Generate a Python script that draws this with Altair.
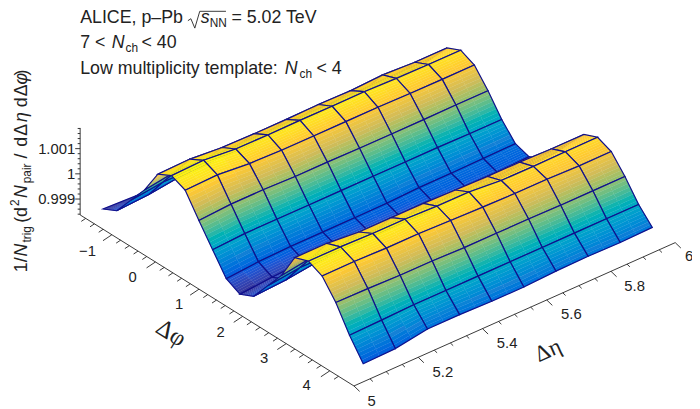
import math
import numpy as np
import pandas as pd
import altair as alt

# correlation values: (z - 1) * 1000, rows = delta-phi node, columns = delta-eta node
z_milli = [
    [-1.51,-1.57,-1.43,-1.39,-1.39,-1.39,-1.36,-1.36,-1.36,-1.32],
    [-1.24,-1.16,-1.00,-0.96,-0.96,-0.96,-0.96,-0.92,-0.92,-0.92],
    [-0.49,-0.34,-0.34,-0.30,-0.30,-0.30,-0.30,-0.30,-0.30,-0.30],
    [0.25,0.45,0.41,0.41,0.41,0.41,0.41,0.41,0.41,0.41],
    [1.23,1.26,1.15,1.13,1.13,1.15,1.13,1.19,1.12,1.12],
    [1.51,1.55,1.43,1.42,1.43,1.42,1.43,1.39,1.37,1.37],
    [1.27,1.31,1.19,1.15,1.15,1.15,1.15,1.13,1.12,1.12],
    [0.41,0.49,0.49,0.45,0.45,0.43,0.43,0.43,0.44,0.44],
    [-0.41,-0.34,-0.34,-0.34,-0.34,-0.34,-0.34,-0.34,-0.36,-0.36],
    [-1.22,-1.12,-1.08,-1.08,-1.08,-1.07,-1.02,-1.02,-1.00,-0.98],
    [-1.50,-1.39,-1.32,-1.28,-1.28,-1.28,-1.24,-1.20,-1.20,-1.16],
    [-1.24,-1.16,-1.00,-0.96,-0.96,-0.96,-0.96,-0.92,-0.92,-0.92],
    [-0.49,-0.34,-0.34,-0.30,-0.30,-0.30,-0.30,-0.30,-0.30,-0.30],
    [0.25,0.45,0.45,0.41,0.41,0.41,0.41,0.41,0.41,0.41],
    [1.31,1.31,1.19,1.19,1.19,1.15,1.12,1.12,1.08,1.08],
    [1.51,1.51,1.47,1.47,1.42,1.41,1.30,1.29,1.30,1.31],
    [1.26,1.27,1.23,1.23,1.19,1.15,1.12,1.12,1.08,1.08],
    [0.55,0.53,0.49,0.49,0.45,0.45,0.45,0.43,0.43,0.43],
    [-0.41,-0.38,-0.34,-0.34,-0.34,-0.34,-0.34,-0.34,-0.34,-0.34],
    [-1.20,-1.17,-0.96,-0.96,-1.00,-1.00,-0.94,-0.92,-0.94,-0.91],
]
phi_nodes = [-math.pi / 2 + k * math.pi / 10 for k in range(20)]
eta_nodes = [5.05 + 0.1 * e for e in range(10)]
palette = ["#352a87", "#0f5cdd", "#1481d6", "#06a4ca", "#2eb7a4",
           "#87bf77", "#d1bb59", "#fec832", "#f9fb0e"]

NAVY = "#10108c"
INK = "#222222"
SANS = "Liberation Sans"

# oblique view of the 3D axes box, in page pixels
ORIGIN = (81.0, 215.0)
PHI0, ETA0, Z0 = -1.728, 5.0, 0.99837
PHI_V = (44.09, 27.54)
ETA_V = (325.0, -145.0)
Z_V = -25500.0
OFF = 8


def view(phi, eta, z):
    x = ORIGIN[0] + (phi - PHI0) * PHI_V[0] + (eta - ETA0) * ETA_V[0]
    y = ORIGIN[1] + (phi - PHI0) * PHI_V[1] + (eta - ETA0) * ETA_V[1] + (z - Z0) * Z_V
    return x - OFF, y - OFF


Z = 1 + np.array(z_milli) / 1000.0
N_P, N_E = 8, 2
features = []


def feature(points, z, edge):
    ring = [[round(a, 2), round(b, 2)] for a, b in points]
    ring.append(ring[0])
    return {"type": "Feature", "geometry": {"type": "Polygon", "coordinates": [ring]},
            "properties": {"z": round((z - 1) * 1000, 3), "edge": edge}}


for k in range(len(phi_nodes) - 1):
    for e in range(len(eta_nodes) - 2, -1, -1):
        def at(u, v):
            zz = ((1 - u) * (1 - v) * Z[k, e] + u * (1 - v) * Z[k + 1, e]
                  + (1 - u) * v * Z[k, e + 1] + u * v * Z[k + 1, e + 1])
            return (phi_nodes[k] + u * (phi_nodes[k + 1] - phi_nodes[k]),
                    eta_nodes[e] + v * (eta_nodes[e + 1] - eta_nodes[e]), zz)
        for i in range(N_P):
            for j in range(N_E):
                u0, u1, v0, v1 = i / N_P, (i + 1) / N_P, j / N_E, (j + 1) / N_E
                cs = [at(u0, v0), at(u1, v0), at(u1, v1), at(u0, v1)]
                features.append(feature([view(*c) for c in cs], sum(c[2] for c in cs) / 4, False))
        cs = [at(0, 0), at(1, 0), at(1, 1), at(0, 1)]
        features.append(feature([view(*c) for c in cs], sum(c[2] for c in cs) / 4, True))

domain = [float(d) for d in np.linspace(-1.57, 1.55, len(palette))]
bird = alt.Scale(domain=domain, range=palette)
is_edge = "datum.properties.edge"
surface = alt.Chart(alt.Data(values=features)).mark_geoshape(opacity=1).encode(
    fill=alt.condition(is_edge, alt.value("transparent"),
                       alt.Fill("properties.z:Q", scale=bird, legend=None)),
    stroke=alt.condition(is_edge, alt.value(NAVY),
                         alt.Stroke("properties.z:Q", scale=bird, legend=None)),
    strokeWidth=alt.condition(is_edge, alt.value(1.2), alt.value(0.3)),
).project(type="identity", scale=1, translate=[0, 0])

# axis lines and ticks
segs = []


def seg(a, b):
    segs.append({"x": a[0], "y": a[1], "x2": b[0], "y2": b[1]})


def shift(p, d, f=1.0):
    return (p[0] + d[0] * f, p[1] + d[1] * f)


PHI_T = (-9.0, 6.0)
ETA_T = (5.7, 5.5)
Z_T = (-5.0, 0.0)
seg(view(PHI0, ETA0, Z0), view(PHI0 + 2 * math.pi, ETA0, Z0))
seg(view(PHI0 + 2 * math.pi, ETA0, Z0), view(PHI0 + 2 * math.pi, 6.0, Z0))
seg(view(PHI0, ETA0, Z0), view(PHI0, ETA0, Z0 + 88 / 25500))

for m in range(-4, 27):
    v = -1 + m * 0.2
    if PHI0 <= v <= PHI0 + 2 * math.pi:
        p = view(v, ETA0, Z0)
        seg(p, shift(p, PHI_T, 1.0 if m % 5 == 0 else 0.5))
for m in range(0, 21):
    p = view(PHI0 + 2 * math.pi, 5 + m * 0.05, Z0)
    seg(p, shift(p, ETA_T, 1.0 if m % 4 == 0 else 0.5))
for m in range(0, 18):
    v = 0.9984 + m * 0.0002
    if v <= Z0 + 88 / 25500:
        p = view(PHI0, ETA0, v)
        seg(p, shift(p, Z_T, 1.0 if m % 5 == 3 else 0.5))
# radical sign of the square root
rad = [(190, 18.5), (193, 16.5), (197, 26), (202, 9), (228.5, 9)]
for a, b in zip(rad[:-1], rad[1:]):
    seg((a[0] - OFF, a[1] - OFF), (b[0] - OFF, b[1] - OFF))
seg_df = pd.DataFrame(segs)
rules = alt.Chart(seg_df).mark_rule(color=INK, strokeWidth=0.9).encode(
    x=alt.X("x:Q", scale=None, axis=None), y=alt.Y("y:Q", scale=None, axis=None),
    x2="x2:Q", y2="y2:Q")

# texts: string, page x, page y (baseline), size, angle, italic, align, font
A = 18
S = 12
T = 15
texts = [
    ("ALICE, p–Pb", 81, 21, A, 0, False, "left", SANS),
    ("s", 203, 21, A, 0, True, "left", SANS),
    ("NN", 212, 25, S, 0, False, "left", SANS),
    ("= 5.02 TeV", 234, 21, A, 0, False, "left", SANS),
    ("7 <", 81, 46, A, 0, False, "left", SANS),
    ("N", 113, 46, A, 0, True, "left", SANS),
    ("ch", 127, 50, S, 0, False, "left", SANS),
    ("< 40", 143, 46, A, 0, False, "left", SANS),
    ("Low multiplicity template:", 81, 72, A, 0, False, "left", SANS),
    ("N", 288, 72, A, 0, True, "left", SANS),
    ("ch", 303, 76, S, 0, False, "left", SANS),
    ("< 4", 320, 72, A, 0, False, "left", SANS),
    ("1/", 27, 273, A, 270, False, "left", SANS),
    ("N", 27, 257, A, 270, True, "left", SANS),
    ("trig", 31, 243, S, 270, False, "left", SANS),
    ("(d", 27, 223, A, 270, False, "left", SANS),
    ("2", 19, 206, S, 270, False, "left", SANS),
    ("N", 27, 198, A, 270, True, "left", SANS),
    ("pair", 31, 183, S, 270, False, "left", SANS),
    ("/", 27, 158, A, 270, False, "left", SANS),
    ("d", 27, 146, A, 270, False, "left", SANS),
    ("Δ", 27, 135, A, 270, False, "left", SANS),
    ("η", 27, 121, A, 270, True, "left", SANS),
    ("d", 27, 106, A, 270, False, "left", SANS),
    ("Δ", 27, 95, A, 270, False, "left", SANS),
    ("φ", 27, 83, A, 270, True, "left", SANS),
    (")", 27, 74, A, 270, False, "left", SANS),
    ("0.999", 76, 204, T, 0, False, "right", SANS),
    ("1", 76, 179, T, 0, False, "right", SANS),
    ("1.001", 76, 153, T, 0, False, "right", SANS),
    ("−1", 97, 257, T, 0, False, "right", SANS),
    ("0", 134, 283, T, 0, False, "center", SANS),
    ("1", 181, 310, T, 0, False, "center", SANS),
    ("2", 223, 338, T, 0, False, "center", SANS),
    ("3", 267, 365, T, 0, False, "center", SANS),
    ("4", 310, 392, T, 0, False, "center", SANS),
    ("5", 376, 408, T, 0, False, "center", SANS),
    ("5.2", 448, 379, T, 0, False, "center", SANS),
    ("5.4", 513, 350, T, 0, False, "center", SANS),
    ("5.6", 578, 320, T, 0, False, "center", SANS),
    ("5.8", 642, 292, T, 0, False, "center", SANS),
    ("6", 697, 262, T, 0, False, "center", SANS),
    ("Δφ", 156, 333, 25, 32, False, "left", "Liberation Serif"),
    ("Δη", 545, 364, 23, 336, False, "left", "Liberation Serif"),
]
tdf = pd.DataFrame(texts, columns=["t", "x", "y", "s", "a", "it", "al", "f"])
tdf["x"] -= OFF
tdf["y"] -= OFF
layers = [surface, rules]
for (it, al, f), g in tdf.groupby(["it", "al", "f"]):
    layers.append(alt.Chart(g).mark_text(align=al, baseline="alphabetic", font=f, color=INK,
                                         fontStyle="italic" if it else "normal").encode(
        x=alt.X("x:Q", scale=None, axis=None), y=alt.Y("y:Q", scale=None, axis=None),
        text="t:N", size=alt.Size("s:Q", scale=None, legend=None),
        angle=alt.Angle("a:Q", scale=None, legend=None)))

chart = alt.layer(*layers).properties(
    width=692, height=401, padding=0, autosize=alt.AutoSizeParams(type="none")
).configure_view(stroke=None)
chart.save("out.html", embed_options={"renderer": "svg", "actions": False})
